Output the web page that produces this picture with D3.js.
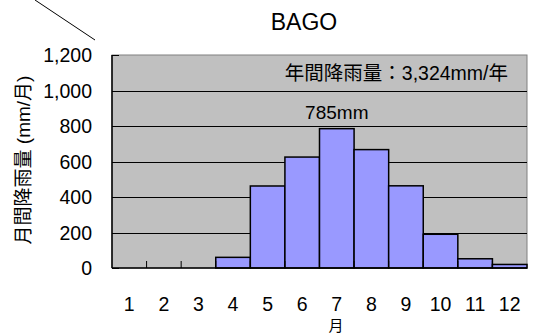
<!DOCTYPE html>
<html lang="ja">
<head>
<meta charset="UTF-8">
<title>BAGO</title>
<script src="https://d3js.org/d3.v7.min.js"></script>
<style>
  body { margin: 0; background: #fff; }
  text { font-family: "Liberation Sans", "Noto Sans CJK JP", sans-serif; fill: #000; }
</style>
</head>
<body>
<div id="chart"></div>
<script>
// monthly rainfall at BAGO (mm)
const months = ["1", "2", "3", "4", "5", "6", "7", "8", "9", "10", "11", "12"];
const rainfall = [0, 0, 0, 60, 462, 625, 785, 667, 463, 190, 52, 20];
const yTicks = [0, 200, 400, 600, 800, 1000, 1200];

const width = 533, height = 335;
const plot = { left: 112, right: 527, top: 55, bottom: 268 };

const svg = d3.select("#chart").append("svg")
    .attr("width", width)
    .attr("height", height);

const x = d3.scaleBand().domain(months).range([plot.left, plot.right]).padding(0);
const y = d3.scaleLinear().domain([0, 1200]).range([plot.bottom, plot.top]);
const fmt = d3.format(",");

// diagonal stroke at top-left corner
svg.append("line")
    .attr("x1", 35).attr("y1", 0).attr("x2", 95).attr("y2", 40)
    .attr("stroke", "#000").attr("stroke-width", 1);

// plot background
svg.append("rect")
    .attr("x", plot.left).attr("y", plot.top)
    .attr("width", plot.right - plot.left).attr("height", plot.bottom - plot.top)
    .attr("fill", "#c0c0c0")
    .attr("stroke", "#808080");

// gridlines
svg.append("g").selectAll("line")
    .data(yTicks.filter(d => d > 0 && d < 1200))
    .join("line")
    .attr("x1", plot.left).attr("x2", plot.right)
    .attr("y1", d => Math.round(y(d)) + 0.5).attr("y2", d => Math.round(y(d)) + 0.5)
    .attr("stroke", "#000");

// bars
svg.append("g").selectAll("rect")
    .data(months)
    .join("rect")
    .attr("x", d => x(d))
    .attr("y", (d, i) => y(rainfall[i]))
    .attr("width", x.bandwidth())
    .attr("height", (d, i) => y(0) - y(rainfall[i]))
    .attr("fill", "#9999ff")
    .attr("stroke", "#000")
    .attr("stroke-width", 1.5);

// x axis: ticks inside at category boundaries
const xAxis = svg.append("g").attr("transform", `translate(0,${plot.bottom})`);
xAxis.append("line")
    .attr("x1", plot.left).attr("x2", plot.right)
    .attr("stroke", "#000").attr("stroke-width", 1.5);
xAxis.selectAll(".tick")
    .data(months.slice(1))
    .join("line")
    .attr("x1", d => x(d)).attr("x2", d => x(d))
    .attr("y1", 0).attr("y2", -7)
    .attr("stroke", "#000");
xAxis.selectAll("text")
    .data(months)
    .join("text")
    .attr("x", d => x(d) + x.bandwidth() / 2)
    .attr("y", 43)
    .attr("text-anchor", "middle")
    .attr("font-size", 19.5)
    .text(d => d);

// y axis
const yAxis = svg.append("g").attr("transform", `translate(${plot.left},0)`);
yAxis.append("line")
    .attr("y1", plot.top).attr("y2", plot.bottom)
    .attr("stroke", "#000").attr("stroke-width", 1.5);
yAxis.selectAll("line.tick")
    .data(yTicks)
    .join("line")
    .attr("class", "tick")
    .attr("x1", 0).attr("x2", 7)
    .attr("y1", d => Math.round(y(d)) + 0.5).attr("y2", d => Math.round(y(d)) + 0.5)
    .attr("stroke", "#000");
yAxis.selectAll("text")
    .data(yTicks)
    .join("text")
    .attr("x", -20)
    .attr("y", d => y(d))
    .attr("dy", "0.36em")
    .attr("text-anchor", "end")
    .attr("font-size", 19.5)
    .text(d => fmt(d));

// titles
svg.append("text")
    .attr("x", 304).attr("y", 30)
    .attr("text-anchor", "middle")
    .attr("font-size", 23)
    .text("BAGO");

svg.append("text")
    .attr("transform", "translate(23,160) rotate(-90)")
    .attr("dy", "0.36em")
    .attr("text-anchor", "middle")
    .attr("font-size", 19)
    .style("fill", "#000")
    .text("月間降雨量 (mm/月)");

svg.append("text")
    .attr("x", 336).attr("y", 331)
    .attr("text-anchor", "middle")
    .attr("font-size", 15)
    .text("月");

// annotations
svg.append("text")
    .attr("x", 508).attr("y", 80)
    .attr("text-anchor", "end")
    .attr("font-size", 19.5)
    .text("年間降雨量：3,324mm/年");

svg.append("text")
    .attr("x", x("7") + x.bandwidth() / 2).attr("y", y(785) - 10)
    .attr("text-anchor", "middle")
    .attr("font-size", 19)
    .text(fmt(rainfall[6]) + "mm");
</script>
</body>
</html>
